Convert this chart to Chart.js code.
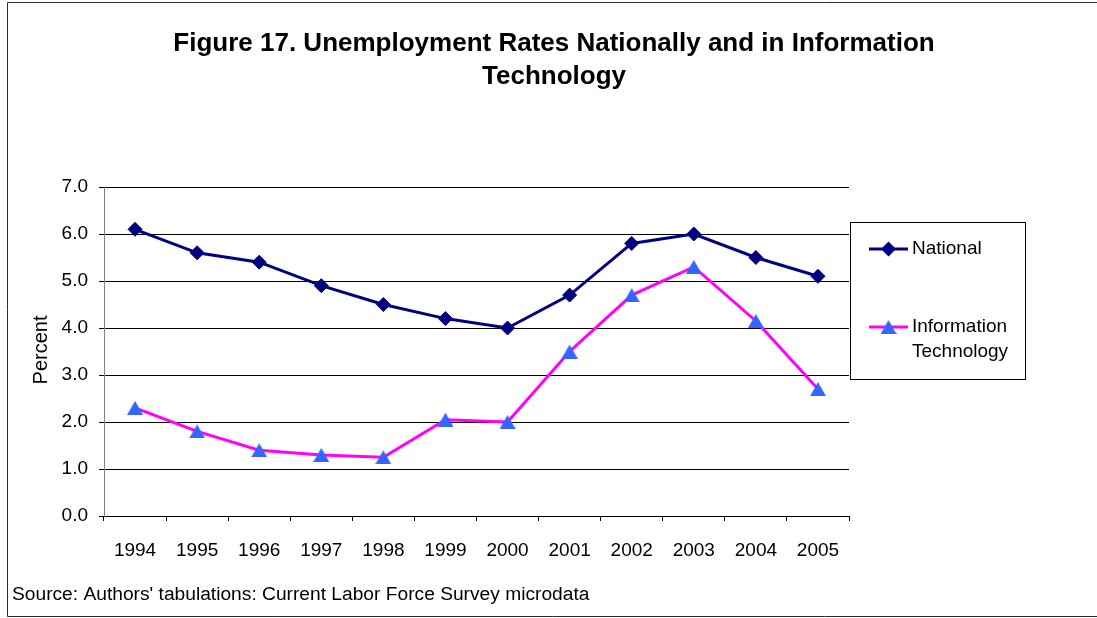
<!DOCTYPE html>
<html>
<head>
<meta charset="utf-8">
<title>Unemployment Rates Nationally and in Information Technology</title>
<script src="https://cdn.jsdelivr.net/npm/chart.js@4/dist/chart.umd.min.js"></script>
<style>
  html, body { margin: 0; padding: 0; background: #fff; }
  canvas { display: block; }
</style>
</head>
<body>
<canvas id="chart" width="1097" height="618"></canvas>
<script>
// Unemployment rate (percent) by year
const years = ['1994', '1995', '1996', '1997', '1998', '1999', '2000', '2001', '2002', '2003', '2004', '2005'];
const national = [6.1, 5.6, 5.4, 4.9, 4.5, 4.2, 4.0, 4.7, 5.8, 6.0, 5.5, 5.1];
const infoTech = [2.3, 1.8, 1.4, 1.3, 1.25, 2.05, 2.0, 3.5, 4.7, 5.3, 4.15, 2.7];
const yTickValues = [0, 1, 2, 3, 4, 5, 6, 7];

const titleLines = ['Figure 17. Unemployment Rates Nationally and in Information', 'Technology'];
const yAxisTitle = 'Percent';
const sourceNote = "Source: Authors' tabulations: Current Labor Force Survey microdata";
const seriesNames = [['National'], ['Information', 'Technology']];

const FONT = '"Liberation Sans", Arial, Helvetica, sans-serif';
const NAVY = '#000080';
const MAGENTA = '#FF00FF';
const MARKER_BLUE = '#3366FF';

// Triangle marker centred in its own box
function makeTriangle(w, h, color) {
  const c = document.createElement('canvas');
  c.width = w; c.height = h;
  const g = c.getContext('2d');
  g.fillStyle = color;
  g.beginPath();
  g.moveTo(w / 2, 0);
  g.lineTo(w, h);
  g.lineTo(0, h);
  g.closePath();
  g.fill();
  return c;
}
const triangleImg = makeTriangle(16, 14, MARKER_BLUE);

function drawDiamond(ctx, x, y, r, color) {
  ctx.beginPath();
  ctx.moveTo(x - r, y);
  ctx.lineTo(x, y - r);
  ctx.lineTo(x + r, y);
  ctx.lineTo(x, y + r);
  ctx.closePath();
  ctx.fillStyle = color;
  ctx.fill();
}

// Frame, titles, source note and legend box
const decorations = {
  id: 'decorations',
  beforeDraw(chart) {
    const ctx = chart.ctx;
    ctx.save();
    ctx.fillStyle = '#fff';
    ctx.fillRect(0, 0, chart.width, chart.height);
    ctx.restore();
  },
  afterDraw(chart) {
    const ctx = chart.ctx;
    ctx.save();

    // outer frame (open on the right)
    ctx.strokeStyle = '#2b2b2b';
    ctx.lineWidth = 1;
    ctx.beginPath();
    ctx.moveTo(1097, 2.5); ctx.lineTo(7.5, 2.5); ctx.lineTo(7.5, 616.5); ctx.lineTo(1097, 616.5);
    ctx.stroke();

    // title
    ctx.fillStyle = '#000';
    ctx.textAlign = 'center';
    ctx.textBaseline = 'alphabetic';
    ctx.font = 'bold 26px ' + FONT;
    ctx.fillText(titleLines[0], 554, 51);
    ctx.fillText(titleLines[1], 554, 84);

    // y axis title
    ctx.font = '20px ' + FONT;
    ctx.save();
    ctx.translate(41, 350);
    ctx.rotate(-Math.PI / 2);
    ctx.textBaseline = 'middle';
    ctx.fillText(yAxisTitle, 0, 0);
    ctx.restore();

    // source note
    ctx.font = '19.2px ' + FONT;
    ctx.textAlign = 'left';
    ctx.textBaseline = 'alphabetic';
    ctx.fillText(sourceNote, 12, 600);

    // legend
    ctx.font = '19px ' + FONT;
    ctx.strokeStyle = '#000';
    ctx.strokeRect(850.5, 222.5, 175, 157);
    const entries = [
      { y: 249, line: NAVY, marker: 'diamond', text: seriesNames[0] },
      { y: 327, line: MAGENTA, marker: 'triangle', text: seriesNames[1] }
    ];
    entries.forEach(e => {
      ctx.strokeStyle = e.line;
      ctx.lineWidth = 3;
      ctx.beginPath();
      ctx.moveTo(869, e.y); ctx.lineTo(908, e.y);
      ctx.stroke();
      if (e.marker === 'diamond') {
        drawDiamond(ctx, 888.5, e.y, 7.5, NAVY);
      } else {
        ctx.drawImage(triangleImg, 888.5 - 8, e.y - 7);
      }
      ctx.fillStyle = '#000';
      ctx.textBaseline = 'middle';
      ctx.textAlign = 'left';
      e.text.forEach((t, i) => ctx.fillText(t, 912, e.y + i * 25));
    });

    ctx.restore();
  }
};

new Chart(document.getElementById('chart'), {
  type: 'line',
  data: {
    labels: years,
    datasets: [
      {
        label: seriesNames[0].join(' '),
        data: national,
        borderColor: NAVY,
        backgroundColor: NAVY,
        borderWidth: 3,
        tension: 0,
        pointStyle: 'rectRot',
        pointRadius: 7,
        pointBorderWidth: 1,
        pointBackgroundColor: NAVY,
        pointBorderColor: NAVY
      },
      {
        label: seriesNames[1].join(' '),
        data: infoTech,
        borderColor: MAGENTA,
        backgroundColor: MARKER_BLUE,
        borderWidth: 3,
        tension: 0,
        pointStyle: triangleImg,
        pointRadius: 8
      }
    ]
  },
  options: {
    responsive: false,
    animation: false,
    devicePixelRatio: 1,
    layout: { padding: { left: 0, top: 187, right: 248, bottom: 52 } },
    plugins: {
      legend: { display: false },
      title: { display: false },
      tooltip: { enabled: false }
    },
    scales: {
      x: {
        offset: true,
        grid: { offset: true, drawOnChartArea: false, drawTicks: true, tickLength: 5, color: '#000', lineWidth: 1 },
        border: { display: true, color: '#000', width: 1 },
        ticks: { color: '#000', font: { family: FONT, size: 19 }, padding: 18, maxRotation: 0, autoSkip: false },
        afterFit(scale) { scale.height = 50; }
      },
      y: {
        min: 0,
        max: 7,
        afterBuildTicks(scale) { scale.ticks = yTickValues.map(v => ({ value: v })); },
        grid: { color: '#000', lineWidth: 1, tickLength: 5 },
        border: { display: true, color: '#808080', width: 1 },
        ticks: { color: '#000', font: { family: FONT, size: 19 }, padding: 11, callback: v => Number(v).toFixed(1) },
        afterFit(scale) { scale.width = 104; }
      }
    }
  },
  plugins: [decorations]
});
</script>
</body>
</html>
